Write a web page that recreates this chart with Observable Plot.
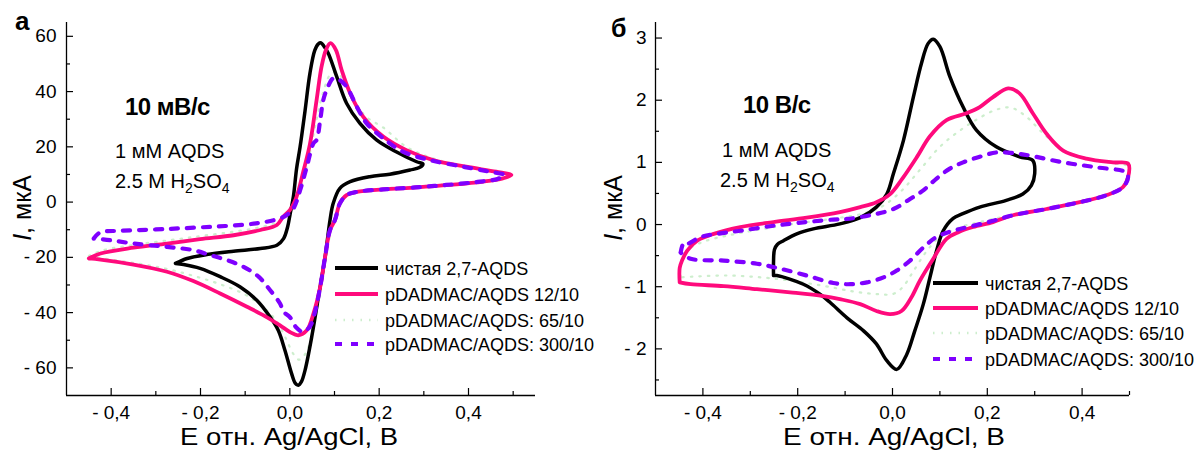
<!DOCTYPE html>
<html>
<head>
<meta charset="utf-8">
<script src="https://cdn.jsdelivr.net/npm/d3@7"></script>
<script src="https://cdn.jsdelivr.net/npm/@observablehq/plot@0.6"></script>
<style>
  html, body { margin: 0; padding: 0; background: #fff; }
  #wrap { position: relative; width: 1194px; height: 450px; overflow: hidden; background: #fff; font-family: "Liberation Sans", Arial, sans-serif; }
  #left, #right { position: absolute; top: 0; }
  #left { left: 0; }
  #right { left: 597px; }
  #overlay { position: absolute; left: 0; top: 0; pointer-events: none; }
</style>
</head>
<body>
<div id="wrap">
  <div id="left"></div>
  <div id="right"></div>
  <svg id="overlay" width="1194" height="450"></svg>
</div>
<script>
// ---------- DATA ----------
// Panel а: 10 mV/s  (E, V ; I, µA)
const a_clean = [[-0.256,-22.2],[-0.230,-20.4],[-0.186,-19.0],[-0.126,-17.8],[-0.066,-16.8],[-0.029,-15.6],[-0.014,-13.2],[-0.005,-9],[0.001,-4],[0.008,2],[0.015,12],[0.023,20],[0.034,33],[0.045,46.6],[0.056,55],[0.064,57.3],[0.070,57.6],[0.076,56.5],[0.086,53.9],[0.105,45.4],[0.127,35.8],[0.157,28.5],[0.194,22.5],[0.238,18.2],[0.284,14.6],[0.298,13.8],[0.290,12.5],[0.269,11.6],[0.224,10.1],[0.179,9.2],[0.135,7.4],[0.112,5],[0.097,-0.5],[0.090,-6.5],[0.079,-19.8],[0.064,-34.3],[0.049,-48.8],[0.034,-60.9],[0.026,-65],[0.019,-66.3],[0.012,-65.5],[0.004,-62.1],[-0.011,-53.6],[-0.026,-46.4],[-0.044,-41.6],[-0.074,-35.5],[-0.111,-30.7],[-0.156,-27.0],[-0.201,-24.0],[-0.238,-22.6],[-0.256,-22.2]];
const a_12 = [[-0.450,-20.4],[-0.424,-18.6],[-0.350,-16.5],[-0.275,-15.0],[-0.201,-13.4],[-0.126,-12.0],[-0.066,-10.1],[-0.029,-8.3],[-0.015,-5.3],[0.000,-2.9],[0.015,1.9],[0.030,11.0],[0.045,21],[0.060,37.0],[0.071,49.0],[0.081,55.1],[0.091,57.5],[0.103,55.1],[0.116,47.8],[0.135,39.4],[0.164,30.9],[0.209,23.7],[0.261,18.8],[0.321,15.2],[0.395,12.8],[0.462,11.0],[0.496,9.8],[0.477,8.6],[0.433,7.4],[0.358,6.2],[0.284,5.3],[0.209,4.6],[0.150,3.7],[0.127,2.5],[0.112,-0.5],[0.101,-6.5],[0.090,-10.1],[0.079,-19.8],[0.068,-30.7],[0.053,-40.3],[0.038,-46.4],[0.019,-48.2],[0.000,-47.0],[-0.022,-44.6],[-0.052,-41.6],[-0.096,-37.9],[-0.156,-33.1],[-0.216,-28.6],[-0.275,-25.2],[-0.350,-22.6],[-0.424,-20.8],[-0.450,-20.4]];
const a_65 = [[-0.450,-19.5],[-0.420,-17.5],[-0.350,-15.5],[-0.270,-13.8],[-0.200,-12.3],[-0.130,-10.8],[-0.070,-9.2],[-0.030,-7.4],[0.000,-4],[0.015,0],[0.030,8],[0.045,18],[0.060,30],[0.075,40],[0.090,46],[0.105,47],[0.120,44],[0.140,38],[0.170,31],[0.209,27],[0.261,20],[0.321,15.8],[0.395,12.8],[0.450,11.2],[0.490,10],[0.470,8.5],[0.400,7.2],[0.300,5.8],[0.200,4.8],[0.140,3.5],[0.115,1],[0.100,-6],[0.090,-12],[0.075,-26],[0.060,-40],[0.045,-51],[0.030,-56],[0.020,-57],[0.008,-55],[-0.010,-49],[-0.030,-43],[-0.060,-38],[-0.100,-33.5],[-0.160,-29.5],[-0.220,-26.5],[-0.280,-24],[-0.350,-22],[-0.420,-20.3],[-0.450,-19.5]];
const a_300 = [[-0.439,-13.2],[-0.425,-11.0],[-0.380,-10.4],[-0.300,-9.9],[-0.245,-9.5],[-0.171,-8.9],[-0.096,-8.1],[-0.052,-7.1],[-0.022,-5.9],[-0.007,-4.7],[0.008,-2.3],[0.023,4.3],[0.038,12.8],[0.053,21.3],[0.060,22.5],[0.068,29.7],[0.075,37.0],[0.084,41.2],[0.097,44.8],[0.110,44.3],[0.127,41.8],[0.150,34.5],[0.172,28.5],[0.209,23.1],[0.254,18.2],[0.313,15.2],[0.388,12.8],[0.447,11.0],[0.481,9.8],[0.465,8.4],[0.420,7.3],[0.350,6.2],[0.280,5.3],[0.209,4.6],[0.150,3.7],[0.127,2.5],[0.112,-0.5],[0.101,-6.5],[0.090,-10.1],[0.079,-19.8],[0.068,-30.7],[0.056,-40.0],[0.045,-45.0],[0.030,-47.0],[0.015,-45.5],[0.000,-41.6],[-0.014,-39.7],[-0.022,-36.7],[-0.044,-31.9],[-0.070,-27.0],[-0.104,-23.4],[-0.141,-21.0],[-0.178,-19.2],[-0.216,-17.4],[-0.275,-16.2],[-0.350,-15.0],[-0.402,-13.8],[-0.439,-13.2]];

// Panel б: 10 V/s  (E, V ; I, µA)
const b_clean = [[-0.251,-0.82],[-0.251,-0.60],[-0.249,-0.40],[-0.243,-0.32],[-0.230,-0.26],[-0.202,-0.15],[-0.167,-0.07],[-0.111,0.01],[-0.068,0.11],[-0.034,0.28],[-0.012,0.49],[0.002,0.82],[0.023,1.35],[0.044,2.05],[0.061,2.59],[0.075,2.91],[0.086,2.98],[0.100,2.86],[0.121,2.38],[0.149,1.89],[0.177,1.52],[0.219,1.25],[0.268,1.09],[0.296,1.03],[0.300,0.82],[0.293,0.63],[0.275,0.49],[0.240,0.39],[0.184,0.28],[0.147,0.17],[0.128,0.10],[0.107,-0.10],[0.093,-0.42],[0.079,-0.85],[0.065,-1.28],[0.047,-1.71],[0.030,-2.09],[0.009,-2.33],[-0.012,-2.19],[-0.034,-1.92],[-0.061,-1.71],[-0.096,-1.50],[-0.132,-1.25],[-0.153,-1.12],[-0.188,-0.96],[-0.244,-0.82],[-0.251,-0.82]];
const b_12 = [[-0.449,-0.93],[-0.449,-0.70],[-0.444,-0.58],[-0.433,-0.42],[-0.412,-0.26],[-0.377,-0.15],[-0.321,-0.04],[-0.251,0.04],[-0.181,0.11],[-0.111,0.20],[-0.068,0.28],[-0.034,0.36],[-0.005,0.49],[0.020,0.73],[0.051,1.08],[0.079,1.42],[0.114,1.68],[0.156,1.79],[0.184,1.89],[0.212,2.05],[0.244,2.19],[0.268,2.11],[0.296,1.79],[0.325,1.46],[0.360,1.19],[0.409,1.06],[0.465,1.00],[0.497,0.98],[0.497,0.76],[0.486,0.60],[0.451,0.47],[0.395,0.36],[0.325,0.25],[0.254,0.15],[0.212,0.04],[0.170,-0.04],[0.140,-0.12],[0.114,-0.23],[0.086,-0.55],[0.058,-0.90],[0.040,-1.17],[0.019,-1.39],[-0.005,-1.44],[-0.034,-1.39],[-0.068,-1.28],[-0.111,-1.20],[-0.146,-1.15],[-0.216,-1.09],[-0.286,-1.04],[-0.356,-0.99],[-0.426,-0.96],[-0.449,-0.93]];
const b_65 = [[-0.447,-0.85],[-0.447,-0.62],[-0.430,-0.40],[-0.400,-0.28],[-0.350,-0.18],[-0.280,-0.08],[-0.200,0.02],[-0.120,0.10],[-0.060,0.18],[-0.020,0.30],[0.020,0.55],[0.060,0.90],[0.100,1.25],[0.140,1.50],[0.180,1.70],[0.220,1.85],[0.250,1.88],[0.280,1.75],[0.320,1.45],[0.360,1.20],[0.410,1.06],[0.470,0.98],[0.497,0.93],[0.490,0.65],[0.450,0.48],[0.400,0.36],[0.330,0.25],[0.250,0.15],[0.190,0.05],[0.140,-0.05],[0.100,-0.20],[0.070,-0.45],[0.040,-0.80],[0.020,-1.02],[0.000,-1.12],[-0.030,-1.12],[-0.080,-1.08],[-0.150,-0.98],[-0.250,-0.87],[-0.350,-0.82],[-0.447,-0.85]];
const b_300 = [[-0.447,-0.45],[-0.440,-0.29],[-0.433,-0.31],[-0.405,-0.20],[-0.370,-0.15],[-0.321,-0.10],[-0.251,-0.02],[-0.181,0.04],[-0.125,0.08],[-0.096,0.09],[-0.047,0.15],[0.002,0.25],[0.037,0.41],[0.065,0.55],[0.093,0.74],[0.121,0.90],[0.149,1.00],[0.184,1.09],[0.219,1.16],[0.254,1.15],[0.289,1.11],[0.360,1.00],[0.430,0.92],[0.493,0.84],[0.497,0.76],[0.486,0.60],[0.451,0.47],[0.395,0.36],[0.325,0.25],[0.254,0.15],[0.212,0.06],[0.170,-0.02],[0.128,-0.10],[0.093,-0.20],[0.065,-0.37],[0.037,-0.58],[0.009,-0.74],[-0.019,-0.85],[-0.054,-0.93],[-0.089,-0.96],[-0.125,-0.94],[-0.181,-0.82],[-0.237,-0.71],[-0.286,-0.63],[-0.356,-0.58],[-0.426,-0.55],[-0.447,-0.45]];

// Axis tick values
const aXMajor = [-0.4, -0.2, 0, 0.2, 0.4];
const aXMinor = [-0.3, -0.1, 0.1, 0.3, 0.5];
const aYMajor = [-60, -40, -20, 0, 20, 40, 60];
const aYMinor = [-50, -30, -10, 10, 30, 50];
const bXMajor = [-0.4, -0.2, 0, 0.2, 0.4];
const bXMinor = [-0.3, -0.1, 0.1, 0.3, 0.5];
const bYMajor = [-2, -1, 0, 1, 2, 3];
const bYMinor = [-2.5, -1.5, -0.5, 0.5, 1.5, 2.5];

// Series labels & styles
const seriesNames = ["чистая 2,7-AQDS", "pDADMAC/AQDS 12/10", "pDADMAC/AQDS: 65/10", "pDADMAC/AQDS: 300/10"];
const seriesColors = ["#000000", "#ff0a7c", "#cdeecd", "#7f00ff"];
const seriesWidths = [3.5, 3.8, 2.2, 4.2];
const seriesDash = [null, null, "1.5,7", "7,9"];

// ---------- HELPERS ----------
const fmtX = d => (d < 0 ? "- " : "") + Math.abs(d).toFixed(1).replace(".", ",");
const fmtY = dec => d => (d < 0 ? "- " : "") + Math.abs(d).toFixed(dec);

function panel({series, xDomain, yDomain, xMajor, xMinor, yMajor, yMinor, yDec, mL, mR, yPad}) {
  const W = 597, H = 450, mT = 22, mB = 55;
  const fH = H - mT - mB, fW = W - mL - mR;
  const order = [2, 0, 1, 3];
  const lineMarks = order.map(i => Plot.line(series[i], {
    x: d => d[0], y: d => d[1],
    stroke: seriesColors[i], strokeWidth: seriesWidths[i],
    strokeDasharray: seriesDash[i] ?? undefined,
    curve: "catmull-rom", strokeLinejoin: "round"
  }));
  return Plot.plot({
    width: W, height: H,
    marginLeft: mL, marginRight: mR, marginTop: mT, marginBottom: mB,
    x: {domain: xDomain},
    y: {domain: yDomain},
    style: {fontFamily: "'Liberation Sans', Arial, sans-serif", fontSize: "19px", color: "#000", background: "transparent", overflow: "visible"},
    marks: [
      ...lineMarks,
      Plot.ruleX([xDomain[0]], {stroke: "#000", strokeWidth: 1.3}),
      Plot.ruleY([yDomain[0]], {stroke: "#000", strokeWidth: 1.3}),
      Plot.tickX(xMajor, {x: d => d, insetTop: fH - 7, stroke: "#000", strokeWidth: 1.2}),
      Plot.tickX(xMinor, {x: d => d, insetTop: fH - 4, stroke: "#000", strokeWidth: 1.2}),
      Plot.tickY(yMajor, {y: d => d, insetRight: fW - 7, stroke: "#000", strokeWidth: 1.2}),
      Plot.tickY(yMinor, {y: d => d, insetRight: fW - 4, stroke: "#000", strokeWidth: 1.2}),
      Plot.axisX(xMajor, {tickSize: 0, tickPadding: 10, tickFormat: fmtX, label: null, fontSize: 19}),
      Plot.axisY(yMajor, {tickSize: 0, tickPadding: yPad, tickFormat: fmtY(yDec), label: null, fontSize: 19})
    ]
  });
}

document.getElementById("left").appendChild(panel({
  series: [a_clean, a_12, a_65, a_300],
  xDomain: [-0.5, 0.55], yDomain: [-70, 65],
  xMajor: aXMajor, xMinor: aXMinor, yMajor: aYMajor, yMinor: aYMinor, yDec: 0,
  mL: 66, mR: 62, yPad: 10
}));
document.getElementById("right").appendChild(panel({
  series: [b_clean, b_12, b_65, b_300],
  xDomain: [-0.5, 0.5], yDomain: [-2.75, 3.25],
  xMajor: bXMajor, xMinor: bXMinor, yMajor: bYMajor, yMinor: bYMinor, yDec: 0,
  mL: 58, mR: 65, yPad: 9
}));

// ---------- ANNOTATIONS / LEGENDS ----------
const ov = d3.select("#overlay").style("font-family", "'Liberation Sans', Arial, sans-serif");
function txt(x, y, s, opts = {}) {
  const t = ov.append("text").attr("x", x).attr("y", y).attr("font-size", opts.size || 20)
    .attr("fill", "#000");
  if (opts.bold) t.attr("font-weight", "bold");
  if (opts.anchor) t.attr("text-anchor", opts.anchor);
  if (opts.ls) t.attr("letter-spacing", opts.ls);
  if (opts.len) t.attr("textLength", opts.len).attr("lengthAdjust", "spacingAndGlyphs");
  t.text(s);
  return t;
}
function h2so4(x, y) {
  const t = ov.append("text").attr("x", x).attr("y", y).attr("font-size", 20).attr("fill", "#000");
  t.append("tspan").text("2.5 M H");
  t.append("tspan").attr("dy", 5).attr("font-size", 14).text("2");
  t.append("tspan").attr("dy", -5).text("SO");
  t.append("tspan").attr("dy", 5).attr("font-size", 14).text("4");
}
function ylabel(cx, cy) {
  const t = ov.append("text").attr("transform", `translate(${cx},${cy}) rotate(-90)`)
    .attr("text-anchor", "middle").attr("font-size", 25).attr("fill", "#000");
  t.append("tspan").attr("font-style", "italic").text("I");
  t.append("tspan").text(", мкА");
}
function legend(x0, x1, tx, ys) {
  seriesNames.forEach((name, i) => {
    const l = ov.append("line").attr("x1", x0).attr("x2", x1).attr("y1", ys[i]).attr("y2", ys[i])
      .attr("stroke", seriesColors[i]).attr("stroke-width", i === 2 ? 2.5 : 4);
    if (seriesDash[i]) l.attr("stroke-dasharray", seriesDash[i]);
    txt(tx, ys[i] + 7, name, {size: 18});
  });
}

// panel а
txt(15, 30, "а", {size: 26, bold: true});
txt(125, 115, "10 мВ/с", {size: 24, bold: true, ls: -0.5});
txt(115, 158, "1 мМ AQDS", {size: 20});
h2so4(115, 188);
txt(180, 445, "E отн. Ag/AgCl, B", {size: 23, len: 218});
ylabel(31, 208);
legend(335, 378, 385, [268, 294, 320, 344]);

// panel б
txt(611, 37, "б", {size: 25, bold: true});
txt(743, 113, "10 В/с", {size: 24, bold: true, ls: -0.5});
txt(722, 157, "1 мМ AQDS", {size: 20});
h2so4(720, 187);
txt(783, 445, "E отн. Ag/AgCl, B", {size: 23, len: 222});
ylabel(622, 208);
legend(933, 978, 985, [283, 308, 333, 359]);
</script>
</body>
</html>
